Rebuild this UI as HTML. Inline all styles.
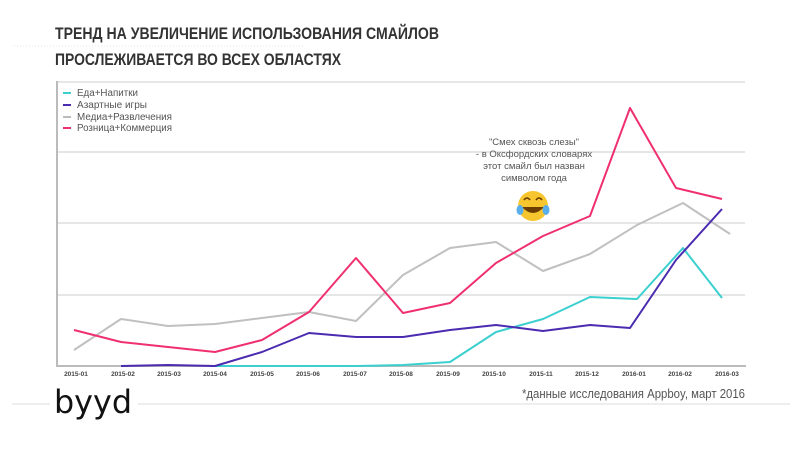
<!DOCTYPE html>
<html><head><meta charset="utf-8"><style>
body{margin:0;width:800px;height:445px;background:#fff;overflow:hidden;font-family:"Liberation Sans","DejaVu Sans",sans-serif}
</style></head><body>
<svg width="800" height="445" viewBox="0 0 800 445" xmlns="http://www.w3.org/2000/svg">
<line x1="14" y1="46" x2="305" y2="46" stroke="#e4e4e4" stroke-width="1" stroke-dasharray="1,2"/>
<text x="55" y="39" font-size="16.5" font-weight="bold" fill="#333" font-family="Liberation Sans, sans-serif" textLength="384" lengthAdjust="spacingAndGlyphs">ТРЕНД НА УВЕЛИЧЕНИЕ ИСПОЛЬЗОВАНИЯ СМАЙЛОВ</text>
<text x="55" y="65" font-size="16.5" font-weight="bold" fill="#333" font-family="Liberation Sans, sans-serif" textLength="286" lengthAdjust="spacingAndGlyphs">ПРОСЛЕЖИВАЕТСЯ ВО ВСЕХ ОБЛАСТЯХ</text>
<g stroke="#ddd" stroke-width="1.5">
<line x1="57" y1="82" x2="745" y2="82"/>
<line x1="57" y1="152" x2="745" y2="152"/>
<line x1="57" y1="223" x2="745" y2="223"/>
<line x1="57" y1="295" x2="745" y2="295"/>
</g>
<line x1="57" y1="81" x2="57" y2="367" stroke="#bbb" stroke-width="2"/>
<line x1="56" y1="366" x2="746" y2="366" stroke="#bbb" stroke-width="2"/>
<g font-size="10" fill="#555">
<line x1="63" y1="93" x2="71" y2="93" stroke="#3ccfcf" stroke-width="2"/><text x="77" y="96" textLength="61" lengthAdjust="spacingAndGlyphs">Еда+Напитки</text>
<line x1="63" y1="105" x2="71" y2="105" stroke="#4b2bb0" stroke-width="2"/><text x="77" y="108" textLength="70" lengthAdjust="spacingAndGlyphs">Азартные игры</text>
<line x1="63" y1="117" x2="71" y2="117" stroke="#bbb" stroke-width="2"/><text x="77" y="120" textLength="95" lengthAdjust="spacingAndGlyphs">Медиа+Развлечения</text>
<line x1="63" y1="128" x2="71" y2="128" stroke="#f0306e" stroke-width="2"/><text x="77" y="131" textLength="95" lengthAdjust="spacingAndGlyphs">Розница+Коммерция</text>
</g>
<g fill="none" stroke-width="2" stroke-linejoin="round">
<polyline stroke="#c0c0c0" points="74,350 121,319 168,326 215,324 262,318 309,312 356,321 403,275 450,248 496,242 543,271 590,254 637,225 683,203 730,234"/>
<polyline stroke="#f0306e" points="74,330 121,342 168,347 215,352 262,340 309,312 356,258 403,313 450,303 496,263 543,236 590,216 630,108 676,188 722,199"/>
<polyline stroke="#3ccfcf" points="212,366 356,366 403,365 450,362 496,332 543,319 590,297 637,299 683,248 722,298"/>
<polyline stroke="#4b2bb0" points="121,366 168,365 215,366 262,352 309,333 356,337 403,337 450,330 496,325 543,331 590,325 630,328 676,260 722,209"/>
</g>
<g font-size="6.5" fill="#444" font-weight="bold" text-anchor="middle">
<text x="76" y="376">2015-01</text><text x="123" y="376">2015-02</text><text x="169" y="376">2015-03</text><text x="215" y="376">2015-04</text><text x="262" y="376">2015-05</text><text x="308" y="376">2015-06</text><text x="355" y="376">2015-07</text><text x="401" y="376">2015-08</text><text x="448" y="376">2015-09</text><text x="494" y="376">2015-10</text><text x="541" y="376">2015-11</text><text x="587" y="376">2015-12</text><text x="634" y="376">2016-01</text><text x="680" y="376">2016-02</text><text x="727" y="376">2016-03</text>
</g>
<g font-size="9.5" fill="#555" text-anchor="middle">
<text x="534" y="145">"Смех сквозь слезы"</text>
<text x="534" y="157">- в Оксфордских словарях</text>
<text x="534" y="169">этот смайл был назван</text>
<text x="534" y="181">символом года</text>
</g>
<g>
<circle cx="533" cy="206" r="15" fill="#f7c52e"/>
<path d="M524 200 q3 -4 6 0 M536 200 q3 -4 6 0" stroke="#6b3d00" stroke-width="1.6" fill="none"/>
<path d="M522 207 q11 12 22 0 z" fill="#6b3d00"/>
<ellipse cx="520" cy="210" rx="3.5" ry="5" fill="#5aaeea"/>
<ellipse cx="546" cy="210" rx="3.5" ry="5" fill="#5aaeea"/>
</g>
<line x1="12" y1="404" x2="790" y2="404" stroke="#eee" stroke-width="2"/>
<text x="522" y="398" font-size="13" fill="#555" textLength="223" lengthAdjust="spacingAndGlyphs">*данные исследования Appboy, март 2016</text>
<rect x="50" y="388" width="88" height="32" fill="#fff"/>
<text x="54" y="413" font-size="32" fill="#111" font-family="DejaVu Sans, sans-serif" textLength="78" lengthAdjust="spacingAndGlyphs">byyd</text>
</svg>
</body></html>
